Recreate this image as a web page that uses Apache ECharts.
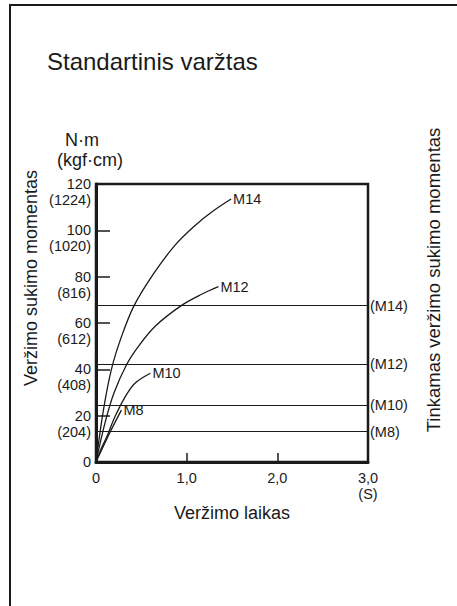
<!DOCTYPE html>
<html>
<head>
<meta charset="utf-8">
<script src="https://cdn.jsdelivr.net/npm/echarts@6/dist/echarts.min.js"></script>
<style>
  html, body { margin: 0; padding: 0; background: #fff; }
  #chart { width: 457px; height: 606px; }
</style>
</head>
<body>
<div id="chart"></div>
<script>
// values
var yTicks = [0, 20, 40, 60, 80, 100, 120];
var kgfTicks = ["", "204", "408", "612", "816", "1020", "1224"];
var xTickLabels = ["0", "1,0", "2,0", "3,0\n(S)"];

var curveNames = ["M14", "M12", "M10", "M8"];
var m14 = [[0, 0], [0.08, 22], [0.17, 40], [0.28, 54], [0.42, 67.5], [0.63, 81], [0.87, 93.5], [1.09, 102], [1.28, 108], [1.49, 113.5]];
var m12 = [[0, 0], [0.1, 17], [0.2, 30], [0.34, 42.2], [0.47, 50], [0.65, 58.5], [0.94, 67.5], [1.17, 72.5], [1.35, 75.7]];
var m10 = [[0, 0], [0.06, 6], [0.12, 11], [0.21, 19.6], [0.32, 28], [0.43, 34], [0.6, 38.3]];
var m8 = [[0, 0], [0.17, 14], [0.28, 22.4]];

// proper tightening torque (horizontal lines)
var properNames = ["(M14)", "(M12)", "(M10)", "(M8)"];
var properValues = [67.5, 42.4, 24.7, 13.1];

var ink = "#1a1a1a";
var font = "Liberation Sans, Arial, sans-serif";

var chart = echarts.init(document.getElementById("chart"), null, { renderer: "svg" });

var curves = [m14, m12, m10, m8].map(function (pts, i) {
  return {
    name: curveNames[i],
    type: "line",
    data: pts,
    color: ink,
    smooth: 0.35,
    showSymbol: false,
    symbol: "none",
    itemStyle: { color: ink },
    lineStyle: { color: ink, width: 1.3 },
    endLabel: {
      show: true,
      formatter: curveNames[i],
      distance: 2,
      color: ink,
      textBorderWidth: 0,
      fontFamily: font,
      fontSize: 14.5
    },
    silent: true
  };
});

curves[0].markLine = {
  silent: true,
  symbol: "none",
  lineStyle: { color: ink, width: 1.2, type: "solid" },
  label: {
    position: "end",
    distance: 2,
    color: ink,
    fontFamily: font,
    fontSize: 14.5
  },
  data: properValues.map(function (v, i) {
    return { yAxis: v, label: { formatter: properNames[i] } };
  })
};

var yBase = {
  type: "value",
  min: 0, max: 120, interval: 20,
  splitLine: { show: false }
};

var option = {
  animation: false,
  backgroundColor: "#fff",
  color: [ink],
  grid: {
    left: 96, top: 184, right: 89, bottom: 144,
    show: true, borderColor: ink, borderWidth: 2.5, backgroundColor: "transparent"
  },
  xAxis: {
    type: "value",
    min: 0, max: 3, interval: 1,
    splitLine: { show: false },
    axisLine: { show: true, lineStyle: { color: ink, width: 3 } },
    axisTick: { show: true, inside: true, length: 9, lineStyle: { color: ink, width: 1.5 } },
    axisLabel: {
      margin: 8,
      color: ink,
      fontFamily: font,
      fontSize: 14.5,
      lineHeight: 16,
      showMaxLabel: true,
      formatter: function (v) { return xTickLabels[Math.round(v)]; }
    },
    name: "Veržimo laikas",
    nameLocation: "middle",
    nameGap: 42,
    nameTextStyle: { color: ink, fontFamily: font, fontSize: 18 }
  },
  yAxis: [
    // N·m values
    Object.assign({}, yBase, {
      axisLine: { show: true, lineStyle: { color: ink, width: 3 } },
      axisTick: { show: true, inside: true, length: 14, lineStyle: { color: ink, width: 1.5 } },
      axisLabel: {
        margin: 5,
        color: ink,
        fontFamily: font,
        fontSize: 14.5,
        lineHeight: 16,
        align: "right",
        padding: [4, 0, 0, 0],
        showMaxLabel: true,
        showMinLabel: true,
        formatter: function (v) { return String(v); }
      }
    }),
    // kgf·cm values under them
    Object.assign({}, yBase, {
      position: "left",
      axisLine: { show: false },
      axisTick: { show: false },
      axisLabel: {
        margin: 5,
        color: ink,
        fontFamily: font,
        fontSize: 14.5,
        lineHeight: 16,
        align: "right",
        verticalAlign: "top",
        padding: [8, 0, 0, 0],
        showMaxLabel: true,
        showMinLabel: true,
        formatter: function (v) {
          var k = kgfTicks[yTicks.indexOf(v)];
          return k ? "(" + k + ")" : "";
        }
      }
    })
  ],
  graphic: [
    {
      type: "rect",
      shape: { x: 10, y: 5, width: 470, height: 620 },
      style: { fill: "none", stroke: ink, lineWidth: 2 },
      silent: true
    },
    {
      type: "text", left: 47, top: 49,
      style: { text: "Standartinis varžtas", fill: ink, font: "24px " + font }
    },
    {
      type: "text", x: 82, y: 140,
      style: { text: "N·m", fill: ink, font: "18px " + font, textAlign: "center", textVerticalAlign: "middle" }
    },
    {
      type: "text", x: 90, y: 160,
      style: { text: "(kgf·cm)", fill: ink, font: "18px " + font, textAlign: "center", textVerticalAlign: "middle" }
    },
    {
      type: "text", x: 31, y: 278, rotation: Math.PI / 2,
      style: { text: "Veržimo sukimo momentas", fill: ink, font: "18px " + font, textAlign: "center", textVerticalAlign: "middle" }
    },
    {
      type: "text", x: 433, y: 280, rotation: Math.PI / 2,
      style: { text: "Tinkamas veržimo sukimo momentas", fill: ink, font: "18.5px " + font, textAlign: "center", textVerticalAlign: "middle" }
    }
  ],
  series: curves
};

chart.setOption(option);
</script>
</body>
</html>
